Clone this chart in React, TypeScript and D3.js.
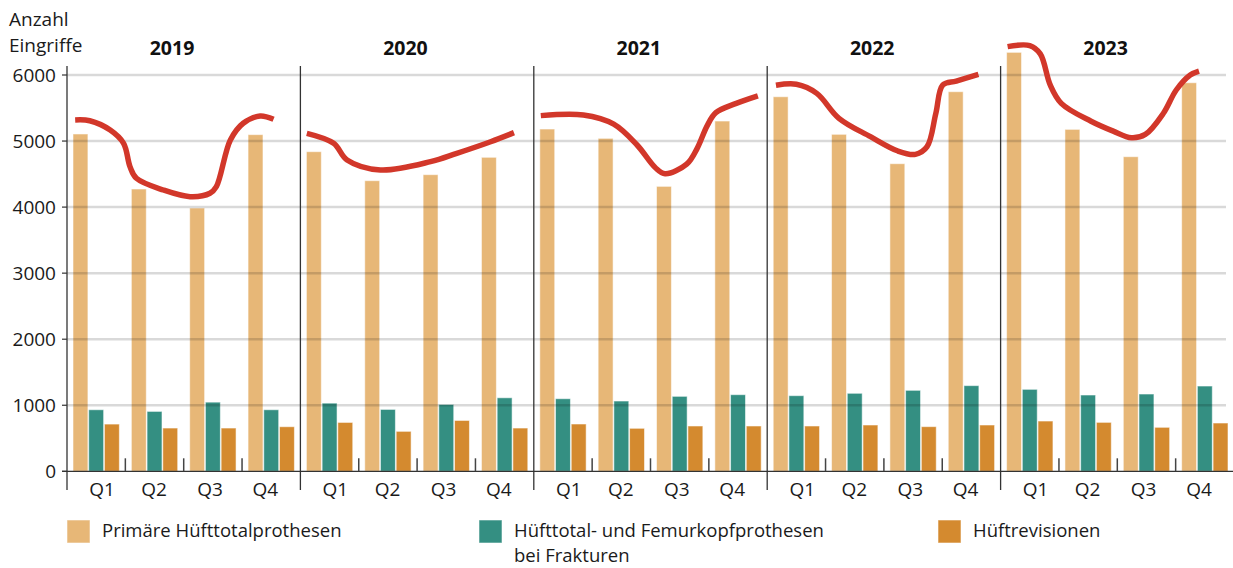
import { useEffect, useRef } from 'react';
import * as d3 from 'd3';

// Eingriffe pro Quartal 2019–2023
const years = ['2019', '2020', '2021', '2022', '2023'];
const quarters = ['Q1', 'Q2', 'Q3', 'Q4'];
const yTicks = [0, 1000, 2000, 3000, 4000, 5000, 6000];

const primary = [
  5107, 4274, 3986, 5097,
  4839, 4400, 4491, 4754,
  5182, 5041, 4314, 5303,
  5671, 5102, 4657, 5747,
  6343, 5177, 4763, 5883,
];
const fractures = [
  932, 907, 1047, 932,
  1032, 937, 1012, 1113,
  1099, 1064, 1135, 1160,
  1145, 1181, 1226, 1297,
  1241, 1155, 1170, 1291,
];
const revisions = [
  715, 655, 655, 675,
  740, 605, 770, 655,
  716, 651, 686, 686,
  686, 701, 676, 701,
  761, 741, 666, 731,
];

// handgezeichnete Trendlinie je Jahr: [Position in Quartalen, Wert]
const trend2019 = [[0.14, 5320], [0.39, 5308], [0.74, 5167], [0.97, 4966], [1.08, 4612], [1.19, 4436], [1.65, 4259], [2.11, 4158], [2.45, 4209], [2.56, 4309], [2.8, 5016], [3.02, 5269], [3.31, 5379], [3.54, 5329]];
const trend2020 = [[0.11, 5117], [0.57, 4966], [0.8, 4713], [1.37, 4562], [2.23, 4688], [2.68, 4814], [3.26, 4990], [3.66, 5127]];
const trend2021 = [[0.12, 5385], [0.85, 5395], [1.37, 5256], [1.77, 4940], [2.08, 4600], [2.25, 4505], [2.62, 4650], [2.8, 4890], [2.97, 5230], [3.12, 5430], [3.47, 5571], [3.84, 5685]];
const trend2022 = [[0.15, 5845], [0.5, 5860], [0.85, 5722], [1.23, 5344], [1.77, 5066], [2.24, 4849], [2.54, 4799], [2.74, 4915], [2.89, 5420], [3.01, 5849], [3.24, 5909], [3.62, 6010]];
const trend2023 = [[0.12, 6430], [0.5, 6445], [0.68, 6320], [0.85, 5850], [1.04, 5571], [1.55, 5300], [1.93, 5150], [2.24, 5050], [2.48, 5100], [2.79, 5420], [3.01, 5773], [3.25, 6000], [3.4, 6060]];
const trends = [trend2019, trend2020, trend2021, trend2022, trend2023];

const seriesNames = ['Primäre Hüfttotalprothesen', 'Hüfttotal- und Femurkopfprothesen bei Frakturen', 'Hüftrevisionen'];
const colors = ['#E7B777', '#348F82', '#D48A2F'];

const FONT = '"Open Sans", sans-serif';
const INK = '#1a1a1a';

export default function App() {
  const svgRef = useRef<SVGSVGElement | null>(null);

  useEffect(() => {
    if (!svgRef.current) return;
    const width = 1233;
    const height = 568;
    const left = 67;
    const right = 1234;
    const top = 75;
    const bottom = 471.3;

    const svg = d3.select(svgRef.current);
    svg.selectAll('*').remove();
    svg.attr('width', width).attr('height', height);

    const keys = years.flatMap((yr) => quarters.map((q) => `${yr}-${q}`));
    const rows = keys.map((k, i) => ({ key: k, values: [primary[i], fractures[i], revisions[i]] }));

    const x = d3.scaleBand().domain(keys).range([left, right]);
    const xYear = d3.scaleBand().domain(years).range([left, right]);
    const xPos = d3.scaleLinear().domain([0, 20]).range([left, right]);
    const bw = x.bandwidth();
    const xInner = d3.scaleBand<number>().domain([0, 1, 2]).range([6, bw - 6]).paddingInner(0.05);
    const y = d3.scaleLinear().domain([0, 6000]).range([bottom, top]);

    // Balken
    const groups = svg.append('g')
      .selectAll('g')
      .data(rows)
      .join('g')
      .attr('transform', (d) => `translate(${x(d.key)},0)`);

    groups.selectAll('rect')
      .data((d) => d.values.map((v, i) => ({ v, i })))
      .join('rect')
      .attr('x', (d) => xInner(d.i)!)
      .attr('y', (d) => y(d.v))
      .attr('width', xInner.bandwidth())
      .attr('height', (d) => y(0) - y(d.v))
      .attr('fill', (d) => colors[d.i])
      .attr('stroke', 'rgba(255,255,255,0.55)')
      .attr('stroke-width', 1);

    // Gitternetz (über den Balken)
    svg.append('g')
      .selectAll('line')
      .data(yTicks.filter((t) => t > 0))
      .join('line')
      .attr('x1', left)
      .attr('x2', 1226)
      .attr('y1', (d) => y(d))
      .attr('y2', (d) => y(d))
      .attr('stroke', 'rgba(0,0,0,0.15)')
      .attr('stroke-width', 2.5);

    // Y-Achse
    const yAxis = svg.append('g');
    yAxis.selectAll('line')
      .data(yTicks)
      .join('line')
      .attr('x1', left - 5)
      .attr('x2', left)
      .attr('y1', (d) => y(d))
      .attr('y2', (d) => y(d))
      .attr('stroke', '#333')
      .attr('stroke-width', 1.2);
    yAxis.selectAll('text')
      .data(yTicks)
      .join('text')
      .attr('x', left - 11)
      .attr('y', (d) => y(d) + 6.5)
      .attr('text-anchor', 'end')
      .attr('font-family', FONT)
      .attr('font-size', 19)
      .attr('fill', INK)
      .text((d) => d);

    // Nulllinie
    svg.append('line')
      .attr('x1', left - 5)
      .attr('x2', width)
      .attr('y1', y(0))
      .attr('y2', y(0))
      .attr('stroke', '#333')
      .attr('stroke-width', 1.3);

    // Jahrestrenner
    svg.append('g')
      .selectAll('line')
      .data(years)
      .join('line')
      .attr('x1', (d) => xYear(d)!)
      .attr('x2', (d) => xYear(d)!)
      .attr('y1', 66)
      .attr('y2', 490)
      .attr('stroke', '#333')
      .attr('stroke-width', 1.3);

    // Quartalsticks
    svg.append('g')
      .selectAll('line')
      .data(keys.filter((k) => !k.endsWith('Q1')))
      .join('line')
      .attr('x1', (d) => x(d)!)
      .attr('x2', (d) => x(d)!)
      .attr('y1', y(0) - 13)
      .attr('y2', y(0))
      .attr('stroke', '#444')
      .attr('stroke-width', 1.5);

    // Quartalsbeschriftung
    const qOffset = [0.15, 0.373, 0.613, 0.85];
    svg.append('g')
      .selectAll('text')
      .data(keys)
      .join('text')
      .attr('x', (d) => {
        const [yr, q] = d.split('-');
        return xYear(yr)! + qOffset[quarters.indexOf(q)] * xYear.bandwidth();
      })
      .attr('y', 496)
      .attr('text-anchor', 'middle')
      .attr('font-family', FONT)
      .attr('font-size', 19)
      .attr('fill', INK)
      .text((d) => d.split('-')[1]);

    // Jahresbeschriftung
    svg.append('g')
      .selectAll('text')
      .data(years)
      .join('text')
      .attr('x', (d) => xYear(d)! + 0.45 * xYear.bandwidth())
      .attr('y', 55)
      .attr('text-anchor', 'middle')
      .attr('font-family', FONT)
      .attr('font-size', 19.5)
      .attr('font-weight', 700)
      .attr('fill', '#111')
      .text((d) => d);

    // Trendlinie
    const line = d3.line<number[]>()
      .x((d) => xPos(d[0]))
      .y((d) => y(d[1]))
      .curve(d3.curveCatmullRom.alpha(0.5));
    svg.append('g')
      .selectAll('path')
      .data(trends.map((pts, yi) => pts.map(([t, v]) => [t + yi * 4, v])))
      .join('path')
      .attr('d', (d) => line(d))
      .attr('fill', 'none')
      .attr('stroke', '#D2372A')
      .attr('stroke-width', 5.5);

    // Achsentitel
    const title = svg.append('text')
      .attr('font-family', FONT)
      .attr('font-size', 19)
      .attr('fill', INK);
    title.append('tspan').attr('x', 9).attr('y', 26).text('Anzahl');
    title.append('tspan').attr('x', 9).attr('y', 52).text('Eingriffe');

    // Legende
    const legendX = [67, 479, 938];
    const legend = svg.append('g')
      .selectAll('g')
      .data(seriesNames)
      .join('g')
      .attr('transform', (_, i) => `translate(${legendX[i]},520)`);
    legend.append('rect')
      .attr('width', 23)
      .attr('height', 23)
      .attr('fill', (_, i) => colors[i])
      .attr('stroke', 'rgba(255,255,255,0.55)');
    legend.selectAll('text')
      .data((d) => (d.includes('bei') ? ['Hüfttotal- und Femurkopfprothesen', 'bei Frakturen'] : [d]))
      .join('text')
      .attr('x', 35)
      .attr('y', (_, i) => 17 + i * 25)
      .attr('font-family', FONT)
      .attr('font-size', 18.5)
      .attr('fill', INK)
      .text((d) => d);
  }, []);

  return (
    <div style={{ position: 'absolute', left: 0, top: 0 }}>
      <svg ref={svgRef} style={{ display: 'block' }} />
    </div>
  );
}
